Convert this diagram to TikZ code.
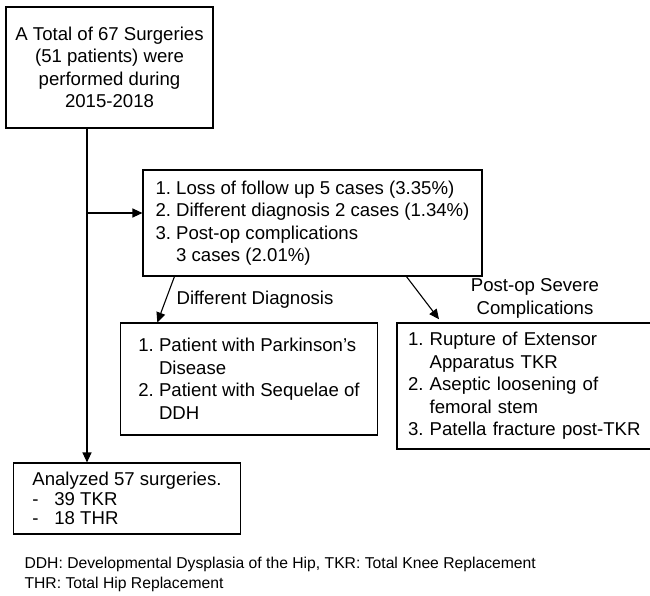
\documentclass[tikz,border=0pt]{standalone}
\usepackage{fontspec}
\setmainfont{Liberation Sans}
\usetikzlibrary{arrows.meta}
\newcommand{\hangin}{\hphantom{1.\ }}

\begin{document}
\frenchspacing
\begin{tikzpicture}[x=1pt, y=-1pt, line width=1.1pt,
    font=\fontsize{18.6}{22.5}\selectfont,
    box/.style={draw, inner ysep=0pt, align=left},
    arr/.style={-{Triangle[length=10pt,width=9pt]}}]
    \useasboundingbox (0,0) rectangle (650,595);
    \node[box, align=center, minimum width=207, minimum height=121] (total) at (109.5,67.5) {A Total of 67 Surgeries\\(51 patients) were\\performed during\\2015-2018}; % all surgeries
    \node[box, inner xsep=12.5pt, minimum width=339, minimum height=106] (excluded) at (312.5,223) {1. Loss of follow up 5 cases (3.35\%)\\2. Different diagnosis 2 cases (1.34\%)\\3. Post-op complications\\\hangin 3 cases (2.01\%)}; % excluded
    \node[box, inner xsep=17.5pt, minimum width=256, minimum height=112] (diffbox) at (249,379) {1. Patient with Parkinson's\\\hangin Disease\\2. Patient with Sequelae of\\\hangin DDH};
    \node[box, inner xsep=11pt, text width=238pt, minimum height=126] (severebox) at (527,386) {1. Rupture of Extensor\\\hangin Apparatus TKR\\2. Aseptic loosening of\\\hangin femoral stem\\3. Patella fracture post-TKR}; % runs off the page
    \node[box, inner xsep=19pt, minimum width=226, minimum height=71, font=\fontsize{18.6}{19.5}\selectfont] (analyzed) at (127,498.5) {Analyzed 57 surgeries.\\\makebox[22pt][l]{-}39 TKR\\\makebox[22pt][l]{-}18 THR};
    \node (diffdx) at (255,300) {Different Diagnosis};
    \node[align=center] (severe) at (535,298.5) {Post-op Severe\\Complications};
    \node[anchor=north west, align=left, inner sep=0pt, font=\fontsize{15.7}{20}\selectfont] (legend) at (24,557) {DDH: Developmental Dysplasia of the Hip, TKR: Total Knee Replacement\\THR: Total Hip Replacement};
    \coordinate (split) at (87,213);
    \draw[arr] (total.south -| split) -- (analyzed.north -| split);
    \draw[arr] (split) -- (split -| excluded.west);
    \draw[arr] ([xshift=32pt]excluded.south west) -- ([xshift=37pt]diffbox.north west);
    \draw[arr, shorten >=4pt] ([xshift=264pt]excluded.south west) -- ([xshift=45pt]severebox.north west);
\end{tikzpicture}
\end{document}
